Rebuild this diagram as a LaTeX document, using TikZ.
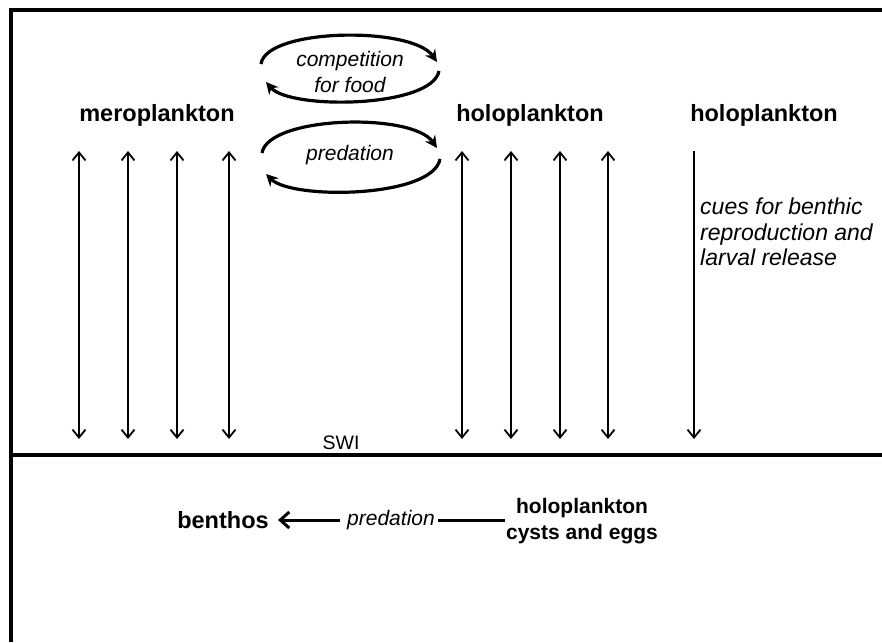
\documentclass[tikz,border=0pt]{standalone}
\usepackage{fontspec}
\setmainfont{Liberation Sans}
\usetikzlibrary{arrows.meta}
\begin{document}
\begin{tikzpicture}[x=1pt,y=-1pt,
  group/.style={font=\fontsize{23.5}{26}\selectfont\bfseries, inner sep=0pt},
  smallgroup/.style={font=\fontsize{21}{26}\selectfont\bfseries, inner sep=0pt, align=center},
  process/.style={font=\fontsize{21}{25.5}\selectfont\itshape, inner sep=0pt},
  flux/.style={line width=1.8pt, {Straight Barb[length=8pt,width=13pt,line width=1.8pt]}-{Straight Barb[length=8pt,width=13pt,line width=1.8pt]}},
  sink/.style={line width=1.8pt, -{Straight Barb[length=8pt,width=13pt,line width=1.8pt]}},
  loop/.style={line width=3.2pt, -{Stealth[length=12pt,width=12pt]}},
  frame/.style={line width=3.4pt}]
\useasboundingbox (0,0) rectangle (882,642);

% outer frame and sediment-water interface
\draw[frame] (11,642) -- (11,10) -- (882,10);
\draw[frame] (11,455) -- (882,455);
\node[font=\fontsize{19.5}{22}\selectfont, inner sep=0pt] (swi) at (341,443) {SWI};

% water-column groups
\node[group] (mero) at (157,115) {meroplankton};
\node[group] (holoA) at (530,115) {holoplankton};
\node[group] (holoB) at (764,115) {holoplankton};

% exchange between water column and bottom
\foreach \i/\x in {1/79,2/128,3/177,4/229,5/462,6/511,7/560,8/608,9/694} {
  \coordinate (t\i) at (\x,151);
  \coordinate (b\i) at (\x,439);
}
\foreach \i in {1,...,8} { \draw[flux] (t\i) -- (b\i); }
\draw[sink] (t9) -- (b9);

\node[process, font=\fontsize{23}{25.5}\selectfont\itshape, align=left, anchor=north west]
  (cues) at (700,198) {cues for benthic\\reproduction and\\larval release};

% interactions between the two planktonic groups
\node[process, align=center] (comp) at (350,72) {competition\\for food};
\coordinate (c1) at (261,64);
\coordinate (c2) at (437,62);
\coordinate (c3) at (439,71);
\coordinate (c4) at (266,82);
\draw[loop] (c1) .. controls (266,28) and (412,26) .. (c2);
\draw[loop] (c3) .. controls (432,108) and (290,110) .. (c4);

\node[process] (pred) at (350,155) {predation};
\coordinate (p1) at (262,153);
\coordinate (p2) at (437,148);
\coordinate (p3) at (440,159);
\coordinate (p4) at (266,174);
\draw[loop] (p1) .. controls (268,116) and (412,112) .. (p2);
\draw[loop] (p3) .. controls (433,198) and (292,200) .. (p4);

% bottom compartment
\node[group] (benthos) at (223,520) {benthos};
\node[smallgroup] (cysts) at (582,521) {holoplankton\\cysts and eggs};
\node[process] (bpred) at (391,520) {predation};
\coordinate (aStart) at (340,520);
\coordinate (aTip) at (278,520);
\coordinate (lStart) at (438,520);
\coordinate (lEnd) at (505,520);
\draw[line width=3pt, -{Straight Barb[length=9pt,width=16pt,line width=3pt]}] (aStart) -- (aTip);
\draw[line width=3pt] (lStart) -- (lEnd);
\end{tikzpicture}
\end{document}
